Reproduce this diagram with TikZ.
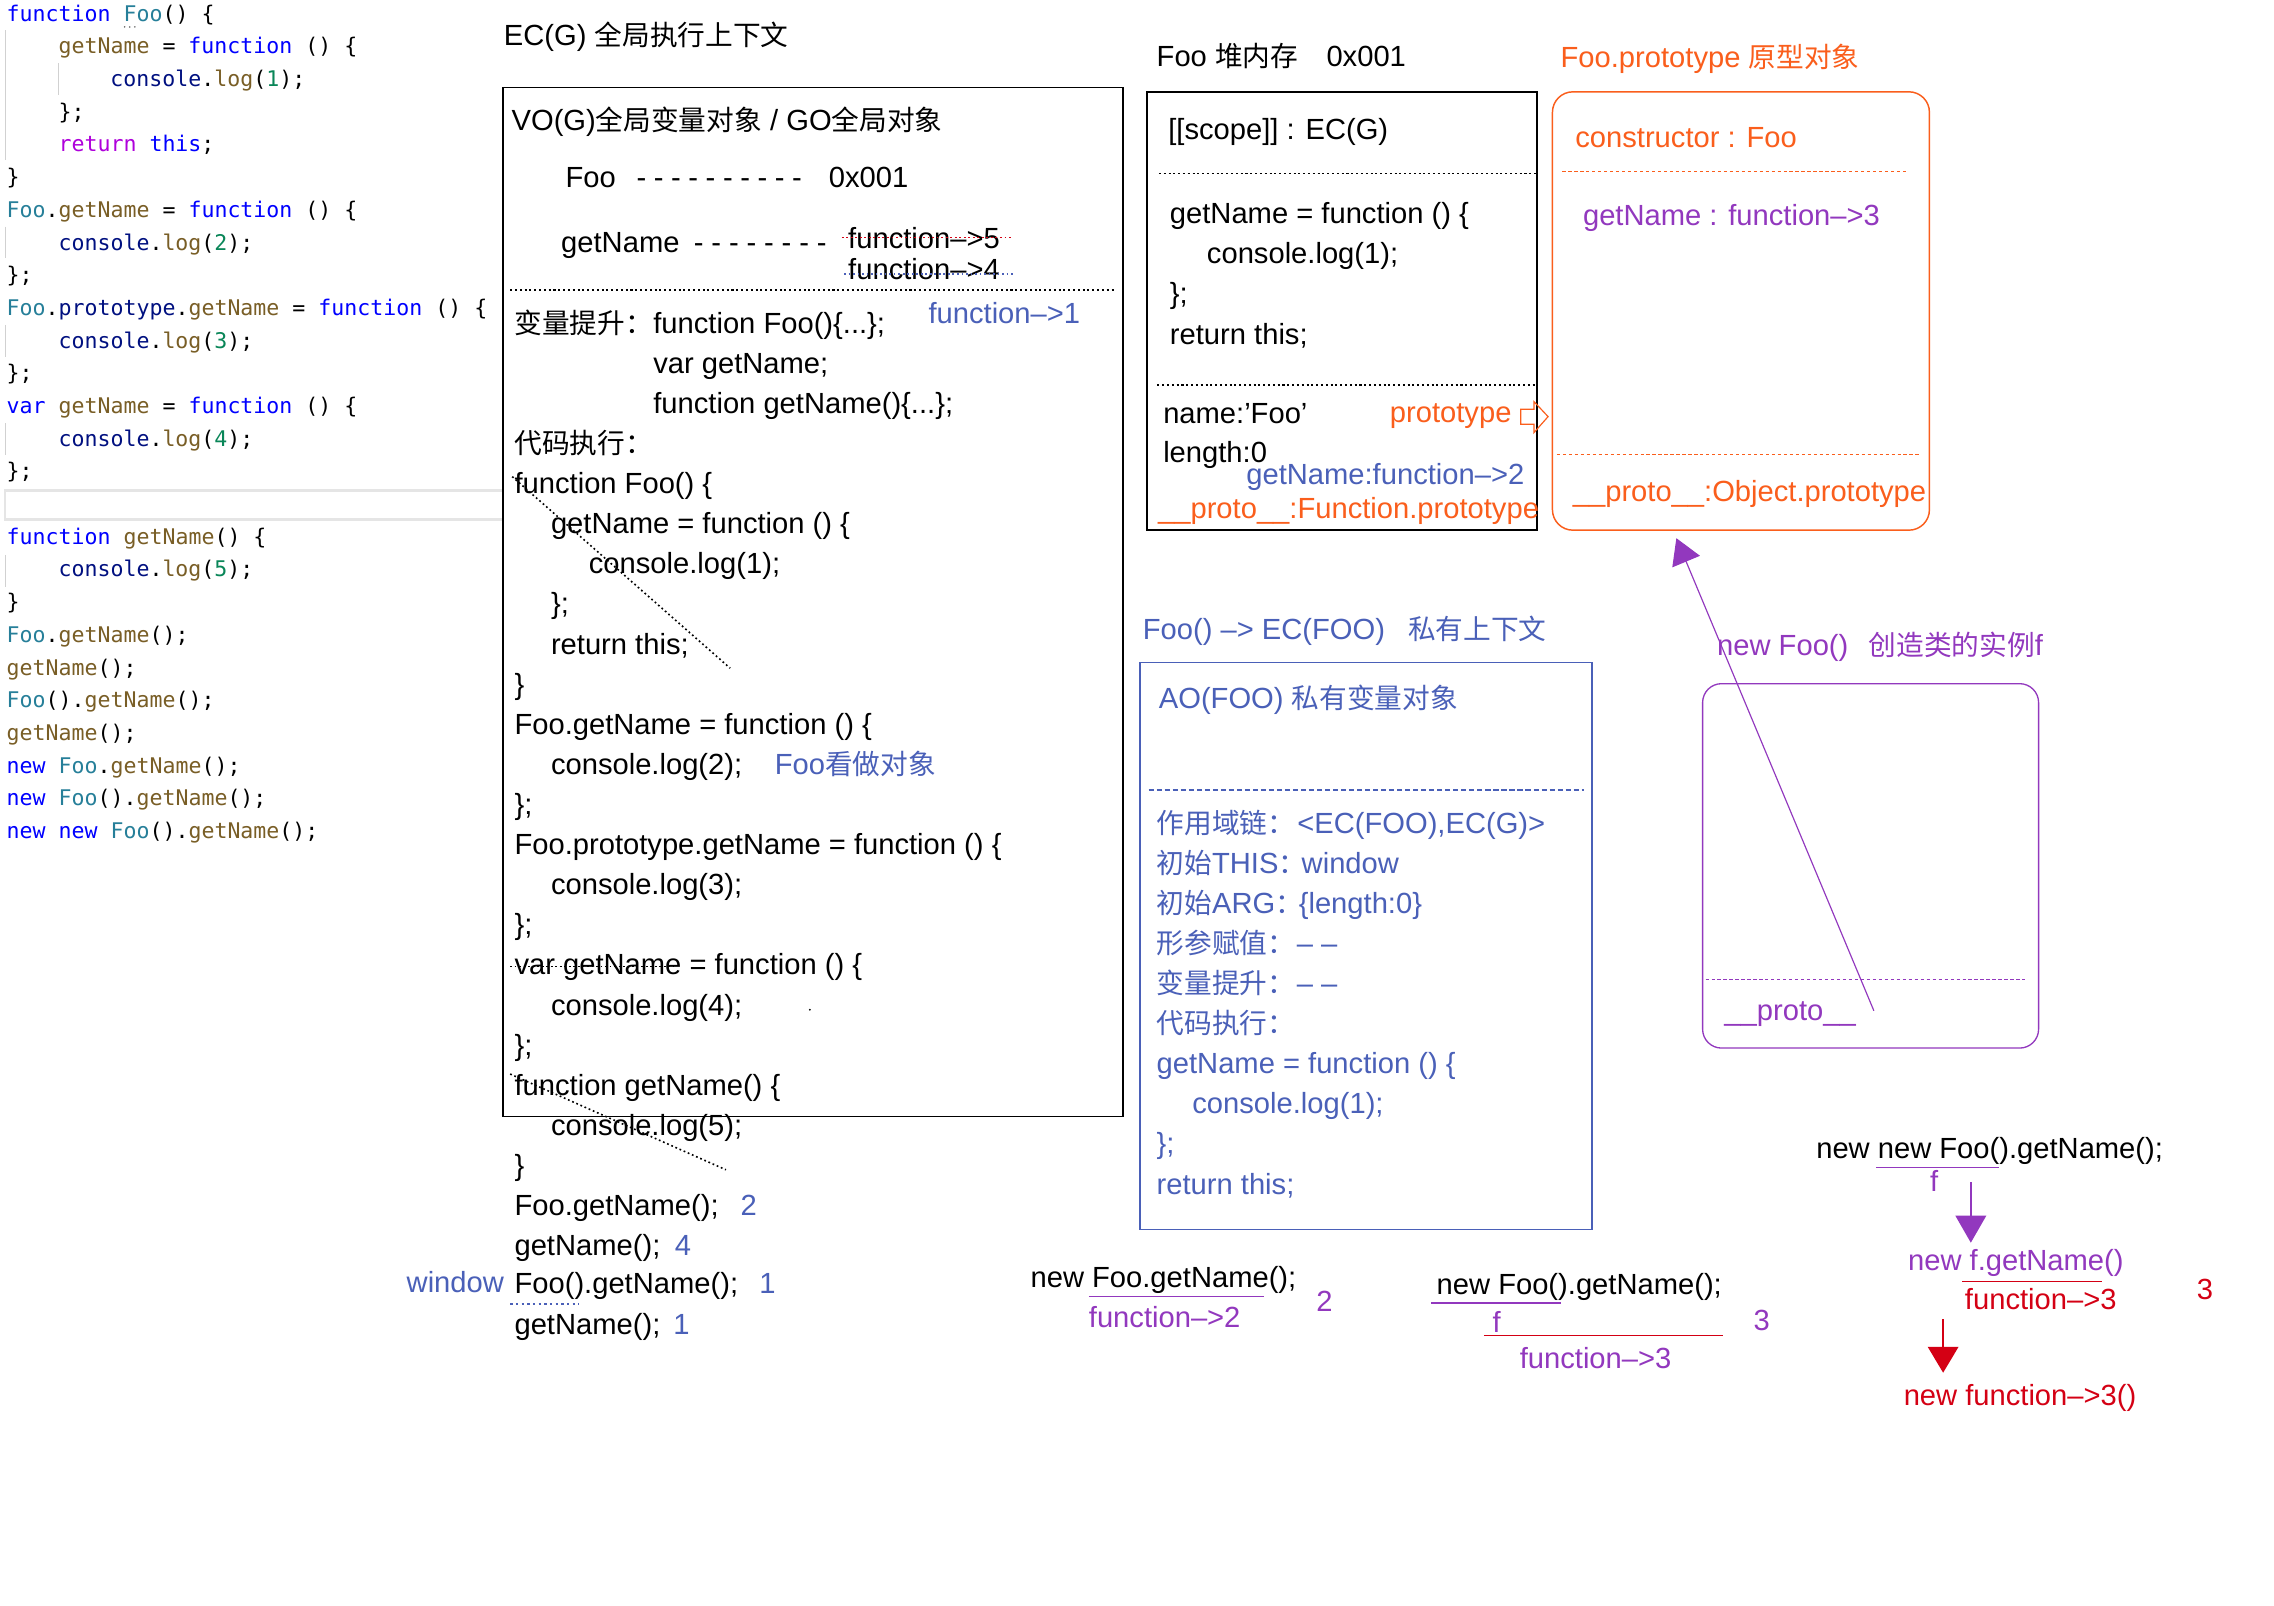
\documentclass[tikz,border=0pt]{standalone}
\usepackage{fontspec}
\setmainfont{Liberation Sans}
\newfontfamily\zhf[Scale=0.95]{Noto Sans CJK SC}
\newfontfamily\codef{DejaVu Sans Mono}
\usetikzlibrary{arrows.meta}
\definecolor{tblue}{RGB}{74,96,184}
\definecolor{torange}{RGB}{250,94,28}
\definecolor{tpurple}{RGB}{146,56,190}
\definecolor{tred}{RGB}{212,0,20}
\definecolor{ckwc}{RGB}{0,0,255}
\definecolor{cctc}{RGB}{175,0,219}
\definecolor{cfnc}{RGB}{121,94,38}
\definecolor{ctyc}{RGB}{38,127,153}
\definecolor{cvrc}{RGB}{0,16,128}
\definecolor{cnmc}{RGB}{9,134,88}
\newcommand\mfs{\fontsize{20}{24}\selectfont}
\newcommand\cfs{\codef\fontsize{14.8}{17}\selectfont}
\newcommand\zhx[1]{{\zhf #1}}
\newcommand\ckw[1]{\textcolor{ckwc}{#1}}
\newcommand\cct[1]{\textcolor{cctc}{#1}}
\newcommand\cfn[1]{\textcolor{cfnc}{#1}}
\newcommand\cty[1]{\textcolor{ctyc}{#1}}
\newcommand\cvr[1]{\textcolor{cvrc}{#1}}
\newcommand\cnm[1]{\textcolor{cnmc}{#1}}
\newcommand\clog[1]{\cvr{console}.\cfn{log}(\cnm{#1});}
\newcommand\dsh[1]{-\hspace{#1}}
\tikzset{
  tx/.style={anchor=base west, inner sep=0pt, outer sep=0pt, font=\mfs, text=black},
  btx/.style={tx, text=tblue},
  otx/.style={tx, text=torange},
  ptx/.style={tx, text=tpurple},
  rtx/.style={tx, text=tred},
  cln/.style={anchor=base west, inner sep=0pt, outer sep=0pt, font=\cfs, text=black},
  guide/.style={draw=black!18, line width=0.7pt},
  dotsep/.style={line width=1.3pt, dash pattern=on 1.4pt off 1.9pt},
  odot/.style={line width=1.2pt, dash pattern=on 2.2pt off 1.9pt},
  diag/.style={line width=1.1pt, dash pattern=on 1.2pt off 1.9pt},
  box/.style={draw, inner sep=0pt, outer sep=0pt, anchor=north west},
}
\begin{document}
\begin{tikzpicture}[x=1pt,y=-1pt]
\fill[white] (0,0) rectangle (1560,1101.74);
\useasboundingbox (0,0) rectangle (1560,1101.74);

% ---------------- code block ----------------
\draw[guide] (4.1,20.6) -- (4.1,109.7);
\draw[guide] (40,43.4) -- (40,65.2);
\draw[guide] (4.1,155.5) -- (4.1,177.2);
\draw[guide] (4.1,222.9) -- (4.1,244.6);
\draw[guide] (4.1,290.3) -- (4.1,312.1);
\draw[guide] (4.1,380.7) -- (4.1,402.4);
\draw[draw=black!10, line width=1.8pt] (3.4,336.5) rectangle (345,356.5);
\foreach \xx in {85.5,89,92.5} \fill[black!60] (\xx,18.5) circle (0.6pt);

\node[cln] (c0) at (4.6,14.5) {\ckw{function} \cty{Foo}() \{};
\node[cln] (c1) at (40.2,36.93) {\cfn{getName} = \ckw{function} () \{};
\node[cln] (c2) at (75.8,59.36) {\clog{1}};
\node[cln] (c3) at (40.2,81.79) {\};};
\node[cln] (c4) at (40.2,104.22) {\cct{return} \ckw{this};};
\node[cln] (c5) at (4.6,126.65) {\}};
\node[cln] (c6) at (4.6,149.08) {\cty{Foo}.\cfn{getName} = \ckw{function} () \{};
\node[cln] (c7) at (40.2,171.51) {\clog{2}};
\node[cln] (c8) at (4.6,193.94) {\};};
\node[cln] (c9) at (4.6,216.37) {\cty{Foo}.\cvr{prototype}.\cfn{getName} = \ckw{function} () \{};
\node[cln] (c10) at (40.2,238.8) {\clog{3}};
\node[cln] (c11) at (4.6,261.23) {\};};
\node[cln] (c12) at (4.6,283.66) {\ckw{var} \cfn{getName} = \ckw{function} () \{};
\node[cln] (c13) at (40.2,306.09) {\clog{4}};
\node[cln] (c14) at (4.6,328.52) {\};};
\node[cln] (c16) at (4.6,373.38) {\ckw{function} \cfn{getName}() \{};
\node[cln] (c17) at (40.2,395.81) {\clog{5}};
\node[cln] (c18) at (4.6,418.24) {\}};
\node[cln] (c19) at (4.6,440.67) {\cty{Foo}.\cfn{getName}();};
\node[cln] (c20) at (4.6,463.1) {\cfn{getName}();};
\node[cln] (c21) at (4.6,485.53) {\cty{Foo}().\cfn{getName}();};
\node[cln] (c22) at (4.6,507.96) {\cfn{getName}();};
\node[cln] (c23) at (4.6,530.39) {\ckw{new} \cty{Foo}.\cfn{getName}();};
\node[cln] (c24) at (4.6,552.82) {\ckw{new} \cty{Foo}().\cfn{getName}();};
\node[cln] (c25) at (4.6,575.25) {\ckw{new} \ckw{new} \cty{Foo}().\cfn{getName}();};

% ---------------- EC(G) box ----------------
\node[tx] (ecgT) at (345.7,31) {EC(G) \zhx{全局执行上下文}};
\node[box, line width=1pt, minimum width=425.3pt, minimum height=706pt] (ecg) at (345,60) {};
\node[tx] (vo) at (351,89.5) {VO(G)\zhx{全局变量对象} / GO\zhx{全局对象}};
\node[tx] (vfoo) at (388,128.3) {Foo};
\node[tx] (vfood) at (436.7,128.3) {\dsh{5.2pt}\dsh{5.2pt}\dsh{5.2pt}\dsh{5.2pt}\dsh{5.2pt}\dsh{5.2pt}\dsh{5.2pt}\dsh{5.2pt}\dsh{5.2pt}-};
\node[tx] (vaddr) at (568.6,128.3) {0x001};
\node[tx] (vgn) at (385,173) {getName};
\node[tx] (vgnd) at (476,173) {\dsh{5.4pt}\dsh{5.4pt}\dsh{5.4pt}\dsh{5.4pt}\dsh{5.4pt}\dsh{5.4pt}\dsh{5.4pt}-};
\node[tx] (f5) at (581.9,170.5) {function–>5};
\node[tx] (f4) at (581.9,191.8) {function–>4};
\draw[tred, line width=1.1pt, dash pattern=on 1.2pt off 1.9pt] (577.5,163) -- (694,163);
\draw[tblue, line width=1.1pt, dash pattern=on 1.2pt off 1.9pt] (579,188) -- (696,188);
\draw[dotsep] (350,199) -- (764,199);
\node[tx] (hoist) at (353,228.5) {\zhx{变量提升：}};
\node[tx] (h1) at (448.2,228.5) {function Foo()\{...\};};
\node[btx] (f1) at (637,222) {function–>1};
\node[tx] (h2) at (448.2,256) {var getName;};
\node[tx] (h3) at (448.2,283.6) {function getName()\{...\};};
\node[tx] (exec) at (353,311.1) {\zhx{代码执行：}};
\node[tx] (m0) at (353,338.6) {function Foo() \{};
\node[tx] (m1) at (378,366.1) {getName = function () \{};
\node[tx] (m2) at (404,393.6) {console.log(1);};
\node[tx] (m3) at (378,421.2) {\};};
\node[tx] (m4) at (378,448.7) {return this;};
\node[tx] (m5) at (353,476.2) {\}};
\node[tx] (m6) at (353,503.7) {Foo.getName = function () \{};
\node[tx] (m7) at (378,531.2) {console.log(2);};
\node[btx] (m7b) at (531.6,531.2) {Foo\zhx{看做对象}};
\node[tx] (m8) at (353,558.8) {\};};
\node[tx] (m9) at (353,586.3) {Foo.prototype.getName = function () \{};
\node[tx] (m10) at (378,613.8) {console.log(3);};
\node[tx] (m11) at (353,641.3) {\};};
\node[tx] (m12) at (353,668.8) {var getName = function () \{};
\node[tx] (m13) at (378,696.4) {console.log(4);};
\node[tx] (m14) at (353,723.9) {\};};
\node[tx] (m15) at (353,751.4) {function getName() \{};
\node[tx] (m16) at (378,778.9) {console.log(5);};
\node[tx] (m17) at (353,806.4) {\}};
\node[tx] (m18) at (353,834) {Foo.getName();};
\node[btx] (m18b) at (508,834) {2};
\node[tx] (m19) at (353,861) {getName();};
\node[btx] (m19b) at (463,861) {4};
\node[tx] (m20) at (353,887.5) {Foo().getName();};
\node[btx] (m20b) at (521,887.5) {1};
\node[btx] (win) at (279,887) {window};
\node[tx] (m21) at (353,915.5) {getName();};
\node[btx] (m21b) at (462,915.5) {1};
\draw[tblue, line width=1.1pt, dash pattern=on 1.6pt off 2.3pt] (350,894.4) -- (397,894.4);
\draw[diag] (351.4,327) -- (500.9,458.4);
\draw[diag] (350,736.8) -- (498,802.5);
\draw[diag] (350,663) -- (462,663);
\fill (555.6,692.7) circle (0.7pt);

% ---------------- Foo heap box ----------------
\node[tx] (heapT) at (793.5,45.5) {Foo \zhx{堆内存}};
\node[tx] (heapA) at (910,45.5) {0x001};
\node[box, line width=1pt, minimum width=267.4pt, minimum height=300.7pt] (heap) at (787,63) {};
\node[tx] (scope) at (801.5,95.5) {[[scope]] : EC(G)};
\draw[dotsep] (795,119) -- (1054,119);
\node[tx] (hp1) at (802.6,153.5) {getName = function () \{};
\node[tx] (hp2) at (828,181) {console.log(1);};
\node[tx] (hp3) at (802.6,208) {\};};
\node[tx] (hp4) at (802.6,236) {return this;};
\draw[dotsep] (794,264) -- (1053,264);
\node[tx] (hpname) at (798,290.5) {name:’Foo’};
\node[otx] (hpproto) at (953.5,289.8) {prototype};
\draw[torange, line width=0.8pt] (1043.2,280.7) -- (1052.3,280.7) -- (1052.3,275.5) -- (1062,285.8) -- (1052.3,296.8) -- (1052.3,291) -- (1043.2,291) -- cycle;
\node[tx] (hplen) at (798,317.5) {length:0};
\node[btx] (hpgn) at (855,332.5) {getName:function–>2};
\node[otx] (hpfp) at (794.5,356) {\_\_proto\_\_:Function.prototype};

% ---------------- Foo.prototype box ----------------
\node[otx] (protoT) at (1070.6,46) {Foo.prototype \zhx{原型对象}};
\node[box, draw=torange, line width=1pt, rounded corners=14pt, minimum width=258.6pt, minimum height=300.7pt] (proto) at (1065,63) {};
\node[otx] (pcons) at (1080.7,101.3) {constructor : Foo};
\draw[torange, odot] (1071.8,117.6) -- (1309,117.6);
\node[ptx] (pgn) at (1086,155) {getName : function–>3};
\draw[torange, odot] (1068,311.8) -- (1318,311.8);
\node[otx] (pop) at (1079,344) {\_\_proto\_\_:Object.prototype};

% ---------------- AO box ----------------
\node[btx] (aoT) at (784,439) {Foo() –> EC(FOO)};
\node[btx] (aoT2) at (966,439) {\zhx{私有上下文}};
\node[box, draw=tblue, line width=1pt, minimum width=310pt, minimum height=389pt] (ao) at (782,454.5) {};
\node[btx] (aoH) at (795,486) {AO(FOO) \zhx{私有变量对象}};
\draw[tblue, line width=1pt, dash pattern=on 3.5pt off 2pt] (788,541.8) -- (1086.5,541.8);
\node[btx] (a0) at (793.5,571.6) {\zhx{作用域链：}};
\node[btx] (a0v) at (890,571.6) {<EC(FOO),EC(G)>};
\node[btx] (a1) at (793.5,599.1) {\zhx{初始}THIS\zhx{：}};
\node[btx] (a1v) at (893,599.1) {window};
\node[btx] (a2) at (793.5,626.6) {\zhx{初始}ARG\zhx{：}};
\node[btx] (a2v) at (891,626.6) {\{length:0\}};
\node[btx] (a3) at (793.5,654.1) {\zhx{形参赋值：}};
\node[btx] (a3v) at (889.6,654.1) {– –};
\node[btx] (a4) at (793.5,681.6) {\zhx{变量提升：}};
\node[btx] (a4v) at (889.6,681.6) {– –};
\node[btx] (a5) at (793.5,709.1) {\zhx{代码执行：}};
\node[btx] (a6) at (793.5,736.6) {getName = function () \{};
\node[btx] (a7) at (818,764.1) {console.log(1);};
\node[btx] (a8) at (793.5,791.6) {\};};
\node[btx] (a9) at (793.5,819.1) {return this;};

% ---------------- instance box ----------------
\node[ptx] (instT) at (1178,449.5) {new Foo()};
\node[ptx] (instT2) at (1282,449.5) {\zhx{创造类的实例}f};
\node[box, draw=tpurple, line width=0.9pt, rounded corners=13pt, minimum width=230.5pt, minimum height=250pt] (inst) at (1168,469) {};
\draw[tpurple, odot] (1170,672) -- (1391,672);
\node[ptx] (instP) at (1183,700) {\_\_proto\_\_};
\coordinate (arrS) at (1285.5,693.4);
\coordinate (arrT) at (1150,369.2);
\draw[tpurple, line width=0.8pt, -{Triangle[length=17.4pt,width=20.4pt]}] (arrS) -- (arrT);

% ---------------- bottom expressions ----------------
\node[tx] (e1) at (707,883.5) {new Foo.getName();};
\draw[tpurple, line width=1pt] (747,889.3) -- (867,889.3);
\node[ptx] (e1r) at (747,911) {function–>2};
\node[ptx] (e1n) at (903,900) {2};

\node[tx] (e2) at (985.6,888.3) {new Foo().getName();};
\draw[tpurple, line width=1pt] (982,894) -- (1071,894);
\node[ptx] (e2f) at (1024,913.8) {f};
\draw[tred, line width=1pt] (1018,916.3) -- (1181.8,916.3);
\node[ptx] (e2r) at (1042.6,938.6) {function–>3};
\node[ptx] (e2n) at (1203,912.4) {3};

\node[tx] (e3) at (1246,795) {new new Foo().getName();};
\draw[tpurple, line width=1pt] (1287,801) -- (1371,801);
\node[ptx] (e3f) at (1324,817.3) {f};
\coordinate (pa1) at (1352,811);
\coordinate (pa2) at (1352,852.5);
\draw[tpurple, line width=1pt, -{Triangle[length=18.5pt,width=21pt]}] (pa1) -- (pa2);
\node[ptx] (e3g) at (1309,871.5) {new f.getName()};
\draw[tred, line width=1pt] (1346,879) -- (1442,879);
\node[rtx] (e3r) at (1348,898.5) {function–>3};
\node[rtx] (e3n) at (1507,891.6) {3};
\coordinate (ra1) at (1333,905);
\coordinate (ra2) at (1333,941.7);
\draw[tred, line width=1pt, -{Triangle[length=17.8pt,width=21pt]}] (ra1) -- (ra2);
\node[rtx] (e3z) at (1306,964.3) {new function–>3()};
\end{tikzpicture}
\end{document}
